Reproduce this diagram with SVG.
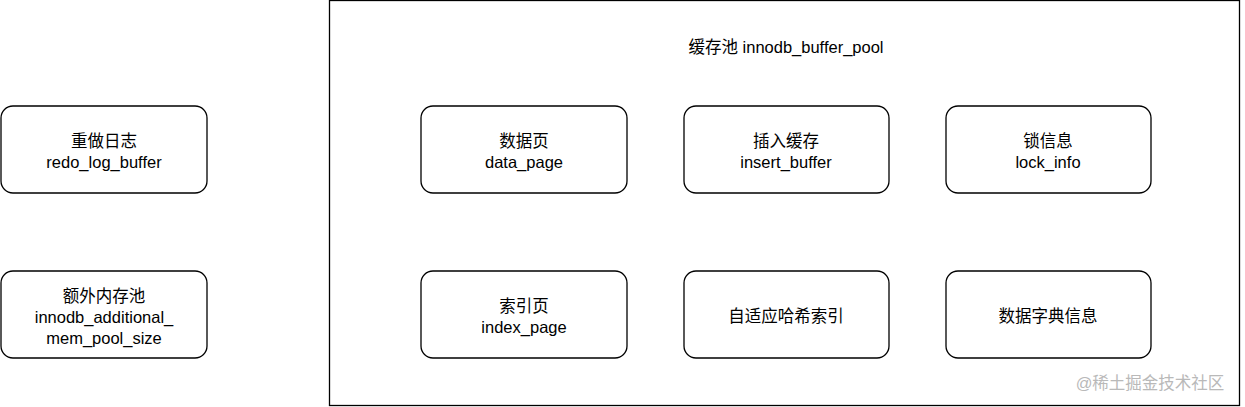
<svg xmlns="http://www.w3.org/2000/svg" width="1245" height="407" viewBox="0 0 1245 407">
<style>
.b{fill:#fff;stroke:#000;stroke-width:1.3}
text{font-family:"Liberation Sans","Noto Sans CJK SC",sans-serif;font-size:16.5px;fill:#000;text-anchor:middle}
.w{fill:#b9b9b9;font-size:16.5px}
</style>
<rect width="1245" height="407" fill="#fff"/>
<g id="pool"><rect class="b" x="329.5" y="0.5" width="910" height="405"/><text x="786" y="53">缓存池 innodb_buffer_pool</text></g>
<g id="redo"><rect class="b" x="1" y="106" width="206" height="87" rx="12"/><text x="104" y="147">重做日志</text><text x="104" y="168">redo_log_buffer</text></g>
<g id="additional"><rect class="b" x="1" y="271" width="206" height="87" rx="12"/><text x="104" y="302">额外内存池</text><text x="104" y="323">innodb_additional_</text><text x="104" y="344">mem_pool_size</text></g>
<g id="data"><rect class="b" x="421" y="106" width="206" height="87" rx="12"/><text x="524" y="147">数据页</text><text x="524" y="168">data_page</text></g>
<g id="insert"><rect class="b" x="684" y="106" width="205" height="87" rx="12"/><text x="786" y="147">插入缓存</text><text x="786" y="168">insert_buffer</text></g>
<g id="lock"><rect class="b" x="946" y="106" width="205" height="87" rx="12"/><text x="1048" y="147">锁信息</text><text x="1048" y="168">lock_info</text></g>
<g id="index"><rect class="b" x="421" y="271" width="206" height="87" rx="12"/><text x="524" y="312">索引页</text><text x="524" y="333">index_page</text></g>
<g id="hash"><rect class="b" x="684" y="271" width="205" height="87" rx="12"/><text x="786" y="322">自适应哈希索引</text></g>
<g id="dict"><rect class="b" x="946" y="271" width="205" height="87" rx="12"/><text x="1048" y="322">数据字典信息</text></g>
<g id="connectors"></g>
<text class="w" x="1150" y="389">@稀土掘金技术社区</text>
</svg>
